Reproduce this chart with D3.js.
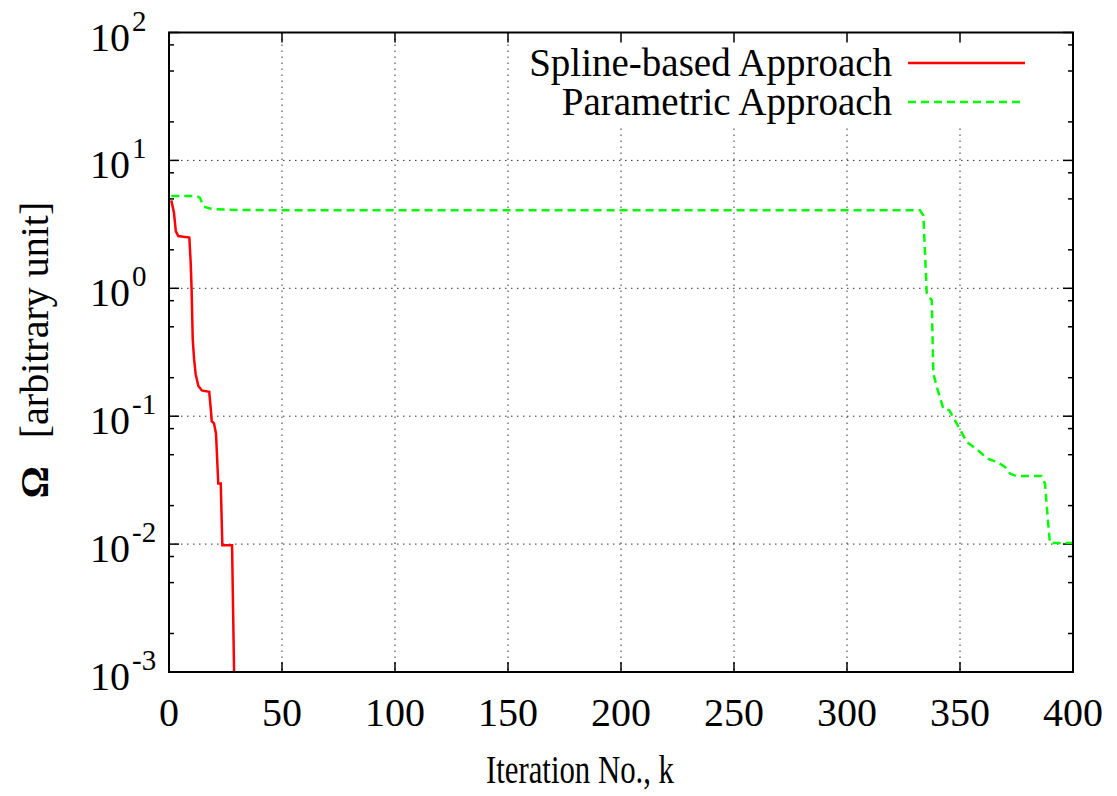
<!DOCTYPE html>
<html>
<head>
<meta charset="utf-8">
<script src="https://cdn.jsdelivr.net/npm/d3@7"></script>
</head>
<body style="margin:0">
<svg id="chart" width="1117" height="796"></svg>
<script>
// values
var splineK = [1, 2.2, 3, 4.1, 9, 9.6, 10, 10.5, 11.1, 11.8, 13, 14.5, 17.8, 18.6, 18.9, 19.9, 20.8, 21.8, 22.9, 23.6, 27.9, 28.8];
var splineV = [4.87, 3.9, 2.8, 2.56, 2.49, 1.59, 0.98, 0.40, 0.279, 0.213, 0.172, 0.159, 0.155, 0.108, 0.091, 0.088, 0.073, 0.0298, 0.0298, 0.0098, 0.0098, 0.001];

var paramK = [1, 12.2, 13.7, 15.2, 18.9, 30, 49, 332.3, 333.8, 335.3, 337.5, 338.2, 339.7, 342.6, 345.3, 349.3, 353, 358.8, 361.8, 366.2, 369.9, 372.1, 375, 386, 387.6, 389, 389.8, 400];
var paramV = [5.26, 5.26, 5.1, 4.37, 4.17, 4.1, 4.07, 4.07, 3.72, 0.91, 0.806, 0.216, 0.17, 0.115, 0.111, 0.083, 0.063, 0.0526, 0.0468, 0.044, 0.0402, 0.0356, 0.034, 0.034, 0.0298, 0.0145, 0.0102, 0.0102];

var xTicks = [0, 50, 100, 150, 200, 250, 300, 350, 400];
var yExps = [-3, -2, -1, 0, 1, 2];
var minorMult = [2, 5, 8];
var seriesNames = ["Spline-based Approach", "Parametric Approach"];

var svg = d3.select("#chart").style("font-family", "Liberation Serif");
var m = { left: 169, right: 1073, top: 32.5, bottom: 672 };

var x = d3.scaleLinear().domain([0, 400]).range([m.left, m.right]);
var y = d3.scaleLog().domain([1e-3, 1e2]).range([m.bottom, m.top]);

function label(sel, size) {
  return sel.append("text").attr("font-size", size).style("font-family", "Liberation Serif");
}

// grid
var grid = svg.append("g").attr("stroke", "#000").attr("stroke-width", 1)
  .attr("stroke-dasharray", "1.5,4.5").attr("opacity", 0.8);
xTicks.slice(1, -1).forEach(function (t) {
  grid.append("line").attr("x1", x(t)).attr("x2", x(t)).attr("y1", m.top).attr("y2", m.bottom);
});
yExps.slice(1, -1).forEach(function (e) {
  grid.append("line").attr("x1", m.left).attr("x2", m.right).attr("y1", y(Math.pow(10, e))).attr("y2", y(Math.pow(10, e)));
});

// legend background hides grid
svg.append("rect").attr("x", 512).attr("y", m.top).attr("width", m.right - 512).attr("height", 92).attr("fill", "#fff");

// ticks (inward, mirrored)
var tk = svg.append("g").attr("stroke", "#000").attr("stroke-width", 1.5);
xTicks.forEach(function (t) {
  tk.append("line").attr("x1", x(t)).attr("x2", x(t)).attr("y1", m.bottom).attr("y2", m.bottom - 10);
  tk.append("line").attr("x1", x(t)).attr("x2", x(t)).attr("y1", m.top).attr("y2", m.top + 10);
});
yExps.forEach(function (e) {
  var v = Math.pow(10, e);
  tk.append("line").attr("x1", m.left).attr("x2", m.left + 10).attr("y1", y(v)).attr("y2", y(v));
  tk.append("line").attr("x1", m.right).attr("x2", m.right - 10).attr("y1", y(v)).attr("y2", y(v));
  if (e < 2) {
    minorMult.forEach(function (k) {
      var w = k * v;
      tk.append("line").attr("x1", m.left).attr("x2", m.left + 5).attr("y1", y(w)).attr("y2", y(w));
      tk.append("line").attr("x1", m.right).attr("x2", m.right - 5).attr("y1", y(w)).attr("y2", y(w));
    });
  }
});

// curves
var line = d3.line().x(function (d) { return x(d[0]); }).y(function (d) { return y(d[1]); });
svg.append("path").datum(d3.zip(paramK, paramV)).attr("d", line)
  .attr("fill", "none").attr("stroke", "#00ff00").attr("stroke-width", 2.5).attr("stroke-dasharray", "8,5");
svg.append("path").datum(d3.zip(splineK, splineV)).attr("d", line)
  .attr("fill", "none").attr("stroke", "#ff0000").attr("stroke-width", 2.5);

// frame
svg.append("rect").attr("x", m.left).attr("y", m.top).attr("width", m.right - m.left).attr("height", m.bottom - m.top)
  .attr("fill", "none").attr("stroke", "#000").attr("stroke-width", 2);

// tick labels
xTicks.forEach(function (t) {
  label(svg, 40).attr("x", x(t)).attr("y", 726).attr("text-anchor", "middle").text(t);
});
yExps.forEach(function (e) {
  var t = label(svg, 40).attr("x", 90).attr("y", y(Math.pow(10, e)) + 18);
  t.append("tspan").text("10");
  t.append("tspan").attr("dy", -20).attr("dx", 2).attr("font-size", 29).text(e);
});

// axis titles
label(svg, 40).attr("x", 580).attr("y", 783).attr("text-anchor", "middle")
  .attr("textLength", 188).attr("lengthAdjust", "spacingAndGlyphs").text("Iteration No., k");
var yl = label(svg, 40).attr("transform", "translate(48,350) rotate(-90)").attr("text-anchor", "middle");
yl.append("tspan").attr("font-weight", "bold").text("\u03A9");
yl.append("tspan").attr("dx", 28).text("[arbitrary unit]");

// legend
var colors = ["#ff0000", "#00ff00"];
var dashes = ["none", "8,5"];
seriesNames.forEach(function (s, i) {
  var ly = 63 + i * 39;
  label(svg, 39).attr("x", 892).attr("y", ly + 13).attr("text-anchor", "end").text(s);
  svg.append("line").attr("x1", 908).attr("x2", 1025).attr("y1", ly).attr("y2", ly)
    .attr("stroke", colors[i]).attr("stroke-width", 2.5).attr("stroke-dasharray", dashes[i]);
});
</script>
</body>
</html>
